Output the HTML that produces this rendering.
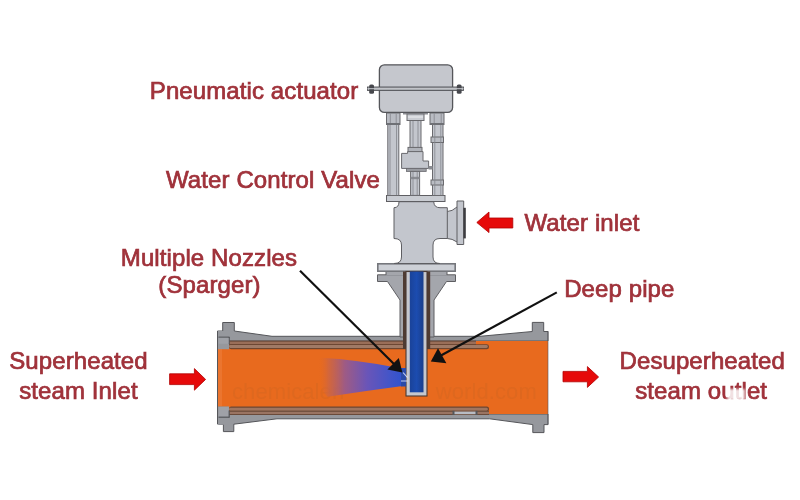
<!DOCTYPE html>
<html><head><meta charset="utf-8">
<style>
html,body{margin:0;padding:0;background:#fff;width:800px;height:500px;overflow:hidden}
svg{display:block;filter:blur(0.45px)}
text{font-family:"Liberation Sans",sans-serif;font-size:24px;fill:#a3333b;stroke:#9a2d36;stroke-width:0.7px;letter-spacing:0.1px}
</style></head><body>
<svg width="800" height="500" viewBox="0 0 800 500">
<defs>
<linearGradient id="spray" x1="318" y1="0" x2="407" y2="0" gradientUnits="userSpaceOnUse">
<stop offset="0" stop-color="#e86a1e" stop-opacity="0"/>
<stop offset="0.12" stop-color="#c8644a" stop-opacity="0.7"/>
<stop offset="0.3" stop-color="#9a5a8a" stop-opacity="0.95"/>
<stop offset="0.55" stop-color="#6a55b8"/>
<stop offset="0.8" stop-color="#4455c8"/>
<stop offset="1" stop-color="#2a52d0"/>
</linearGradient>
<linearGradient id="bluep" x1="0" y1="0" x2="1" y2="0">
<stop offset="0" stop-color="#1a4399"/>
<stop offset="0.5" stop-color="#1c4cb0"/>
<stop offset="1" stop-color="#1a3f8c"/>
</linearGradient>
</defs>

<!-- ===== PIPE ===== -->
<!-- outer wall top -->
<path d="M217.5 331 L222.7 331 L222.7 322.5 L234.3 322.5 L234.3 331 L272 336.3 L480 336.3 L532.3 331.5 L532.3 322.4 L543.7 322.4 L543.7 331.5 L548 331.5 L548 341 L217.5 341 Z" fill="#96989d" stroke="#55565a" stroke-width="1"/>
<!-- outer wall bottom -->
<path d="M218.5 424.2 L223.4 424.2 L223.4 431.6 L233.8 431.6 L233.8 424.2 L277 418.8 L489.6 418.8 L532.8 424.6 L532.8 432.6 L544 432.6 L544 424.6 L548 424.6 L548 414 L218.5 414 Z" fill="#96989d" stroke="#55565a" stroke-width="1"/>
<!-- orange body -->
<rect x="218" y="341" width="330" height="73" fill="#e86a1e"/>
<!-- liner top -->
<rect x="229" y="340.6" width="247" height="4.4" fill="#6a4a3a"/>
<rect x="229" y="341.7" width="247" height="2.4" fill="#9a6e58"/>
<rect x="229" y="344.2" width="260" height="5.1" rx="2.2" fill="#6e4630"/>
<rect x="229" y="345.1" width="258.8" height="2.8" rx="1.4" fill="#a07a66"/>
<!-- liner bottom -->
<rect x="229" y="406.4" width="260" height="5.4" rx="2.2" fill="#6e4630"/>
<rect x="229" y="407.7" width="258.8" height="3" rx="1.4" fill="#9f7560"/>
<rect x="229" y="410.8" width="260" height="4.2" fill="#6a4a3a"/>
<rect x="229" y="411.8" width="260" height="2.2" fill="#9a7462"/>
<rect x="454" y="411.6" width="22" height="2.6" fill="#b8bcc4"/>
<rect x="452.5" y="410.8" width="2" height="4.2" fill="#55565a"/><rect x="475.5" y="410.8" width="2" height="4.2" fill="#55565a"/>
<!-- left flange inner -->
<rect x="217.5" y="331" width="11.5" height="18.2" fill="#96989d"/>
<rect x="218.5" y="336.6" width="11" height="1.2" fill="#55565a"/>
<rect x="228.6" y="337" width="1.2" height="7" fill="#55565a"/>
<rect x="218.5" y="337.8" width="10" height="6" fill="#9fa1a7"/>
<rect x="217.5" y="406.4" width="11.5" height="18.3" fill="#96989d"/>
<rect x="218.8" y="407" width="10" height="9.8" fill="#9fa1a7"/>
<rect x="228.6" y="410.5" width="1.2" height="7" fill="#55565a"/>
<rect x="218.5" y="416.6" width="11" height="1.2" fill="#55565a"/>
<line x1="217.5" y1="331" x2="217.5" y2="424.2" stroke="#55565a" stroke-width="1"/>
<line x1="548" y1="331" x2="548" y2="424.6" stroke="#55565a" stroke-width="0.6"/>
<rect x="218" y="349" width="4" height="57" fill="#f08a50" opacity="0.35"/>

<!-- watermark -->
<text x="232" y="399" style="font-size:22px;fill:#de681f;stroke:none">chemicalen<tspan fill-opacity="0">gineering</tspan>world.com</text>

<!-- spray cone -->
<path d="M318 357.5 Q360 360 399 368 L407 368 L407 386 L404.5 385.8 Q365 391 327.5 396.8 Q316 385 318 357.5 Z" fill="url(#spray)"/>

<!-- ===== LOWER CONNECTION (neck + cone) ===== -->
<path d="M377.5 274.8 L455.5 274.8 L455.5 281.5 L446.5 281.5 L434 300 L434 337 L400 337 L400 300 L387.5 281.5 L377.5 281.5 Z" fill="#a4a6ac" stroke="#5e5e62" stroke-width="1"/>
<rect x="386" y="271" width="61" height="4.3" fill="#a4a6ac"/><line x1="386" y1="271" x2="386" y2="275" stroke="#5e5e62" stroke-width="1"/><line x1="447" y1="271" x2="447" y2="275" stroke="#5e5e62" stroke-width="1"/>
<rect x="377.8" y="263.8" width="77.4" height="7.4" fill="#cdd0d6" stroke="#75777c" stroke-width="1.6"/>

<!-- deep pipe -->
<rect x="403" y="271.5" width="27.2" height="77.5" fill="#4f3b32"/>
<rect x="406" y="271.5" width="21" height="124.5" fill="#c6c8ce" stroke="#4a3a34" stroke-width="1.1"/>
<rect x="409.8" y="271.5" width="13.7" height="120.8" fill="url(#bluep)"/>
<!-- nozzle stub -->
<rect x="401" y="368.5" width="5" height="18" fill="#2a4aa8"/>
<path d="M403 372.5 L407.6 377.6 M401 381 L407.5 381" stroke="#dfe6ff" stroke-width="1.1" opacity="0.85"/>

<!-- ===== VALVE BODY ===== -->
<path d="M399 201.7 L433.7 201.7 Q434 207.7 440 207.7 L447.3 207.7 L447.3 211.5 Q452 211.5 457 207 L457 201 L463.7 201 L463.7 244.5 L457 244.5 L457 242 Q452 238.5 447.3 238.5 L440 238.5 Q433 238.5 433 245 L433 257 Q433 263.5 440 263.5 L394 263.5 Q401.5 263.5 401.5 257 L401.5 245 Q401.5 238.5 394 238.5 L394 207.7 Q399 207.7 399 201.7 Z" fill="#c3c6cd" stroke="#5e5e62" stroke-width="1"/>
<rect x="463.4" y="207.8" width="2.4" height="30.6" fill="#3c3c40"/>
<line x1="447.3" y1="211.5" x2="447.3" y2="238.5" stroke="#5e5e62" stroke-width="1"/>
<line x1="457" y1="207" x2="457" y2="242" stroke="#5e5e62" stroke-width="1"/>

<!-- ===== YOKE / LEGS ===== -->
<rect x="386.5" y="195.5" width="58.5" height="6" fill="#c9ccd2" stroke="#5e5e62" stroke-width="1"/>
<!-- left leg -->
<rect x="387.8" y="124" width="11" height="71.5" fill="#c3c6cd" stroke="#6a6a6e" stroke-width="1"/>
<rect x="386.5" y="113" width="13.5" height="11.5" fill="#b9bcc3" stroke="#6a6a6e" stroke-width="1"/>
<!-- right leg -->
<rect x="432.5" y="124" width="10.5" height="71.5" fill="#c3c6cd" stroke="#6a6a6e" stroke-width="1"/>
<rect x="430" y="113" width="14" height="11.5" fill="#b9bcc3" stroke="#6a6a6e" stroke-width="1"/>
<rect x="431" y="137" width="12.5" height="5.5" fill="#b9bcc3" stroke="#6a6a6e" stroke-width="1"/>
<rect x="431" y="180" width="12.5" height="5" fill="#b9bcc3" stroke="#6a6a6e" stroke-width="1"/>
<!-- center stem -->
<rect x="403" y="112.5" width="25" height="2" fill="#8a8c92"/>
<rect x="407" y="114" width="17" height="6.5" fill="#c9ccd2" stroke="#6a6a6e" stroke-width="1"/>
<rect x="410" y="120.5" width="11" height="27" fill="#c3c6cd" stroke="#6a6a6e" stroke-width="1"/>
<rect x="408" y="147.4" width="14" height="4.2" fill="#b0b3ba" stroke="#6a6a6e" stroke-width="1"/>
<path d="M401.6 153.4 L407.6 153.4 L407.6 151.6 L423 151.6 L423 161 L428.6 161 L428.6 168.4 L401.6 168.4 Z" fill="#c3c6cd" stroke="#6a6a6e" stroke-width="1"/>
<rect x="428.6" y="166" width="4" height="3.5" fill="#8a8c92"/>
<rect x="406.4" y="168.4" width="19.8" height="3" fill="#9a9ca2" stroke="#6a6a6e" stroke-width="0.8"/>
<rect x="410.6" y="171.4" width="9" height="24" fill="#c3c6cd" stroke="#6a6a6e" stroke-width="1"/>
<rect x="410.6" y="176.8" width="9" height="2.4" fill="#8a8c92"/>

<g stroke="#85878d" stroke-width="0.9" opacity="0.9">
<line x1="390.3" y1="113.5" x2="390.3" y2="124"/><line x1="396.2" y1="113.5" x2="396.2" y2="124"/>
<line x1="434.2" y1="113.5" x2="434.2" y2="124"/><line x1="441.2" y1="113.5" x2="441.2" y2="124"/>
<line x1="390" y1="125" x2="390" y2="195"/><line x1="396.5" y1="125" x2="396.5" y2="195"/>
<line x1="434.8" y1="125" x2="434.8" y2="195"/><line x1="440.8" y1="125" x2="440.8" y2="195"/>
<line x1="413" y1="121" x2="413" y2="147"/><line x1="418" y1="121" x2="418" y2="147"/>
<line x1="413" y1="172" x2="413" y2="195"/><line x1="417.2" y1="172" x2="417.2" y2="195"/>
</g>
<rect x="408" y="116" width="15" height="2" fill="#dcdee2"/>
<rect x="386.6" y="123" width="13.4" height="2" fill="#6e7075"/>
<rect x="430.1" y="123" width="13.9" height="2" fill="#6e7075"/>
<!-- ===== ACTUATOR ===== -->
<rect x="379.4" y="64.8" width="73.2" height="47.6" rx="5" fill="#c5c7cd" stroke="#55565a" stroke-width="1.3"/>
<rect x="367.5" y="87" width="96" height="3.4" fill="#a8aaae" stroke="#4e4f54" stroke-width="0.9"/>
<rect x="369.2" y="84.5" width="4.8" height="9.3" rx="1.6" fill="#47484d"/>
<rect x="456.8" y="84.5" width="4.8" height="9.3" rx="1.6" fill="#47484d"/>
<rect x="367.5" y="88.2" width="96" height="1" fill="#c8cacf"/>

<!-- ===== LEADER ARROWS ===== -->
<line x1="300" y1="270.8" x2="395" y2="365" stroke="#111" stroke-width="2.2"/>
<path d="M402.4 372.4 L398.8 358 L387.4 369.4 Z" fill="#111"/>
<line x1="556.8" y1="292.4" x2="440" y2="356" stroke="#111" stroke-width="2.2"/>
<path d="M430.8 361.4 L438 348.2 L446.4 363.2 Z" fill="#111"/>

<!-- ===== RED ARROWS ===== -->
<path d="M169.6 373.8 L194.4 373.8 L194.4 368.6 L205.6 379.4 L194.4 390.2 L194.4 384.6 L169.6 384.6 Z" fill="#e60a0a" stroke="#b00000" stroke-width="0.8"/>
<path d="M563 371.4 L587.4 371.4 L587.4 366.6 L598.6 377 L587.4 387.4 L587.4 381.8 L563 381.8 Z" fill="#e60a0a" stroke="#b00000" stroke-width="0.8"/>
<path d="M476.8 222.5 L489 212 L489 218 L512.8 218 L512.8 228 L489 228 L489 232.6 Z" fill="#e60a0a" stroke="#b00000" stroke-width="0.8"/>

<!-- ===== LABELS ===== -->
<text x="149.8" y="99">Pneumatic actuator</text>
<text x="166" y="187.8">Water Control Valve</text>
<text x="524.5" y="231">Water inlet</text>
<text x="120.8" y="265.5">Multiple Nozzles</text>
<text x="158.3" y="292.5">(Sparger)</text>
<text x="564.2" y="296.5">Deep pipe</text>
<text x="9.2" y="368.5">Superheated</text>
<text x="19.2" y="398.5">steam Inlet</text>
<text x="619.5" y="368.5">Desuperheated</text>
<text x="635.2" y="398.5">steam outlet</text>
<rect x="727" y="389" width="18" height="11" fill="#fff" opacity="0.85" style="filter:blur(1px)"/>
</svg>
</body></html>
